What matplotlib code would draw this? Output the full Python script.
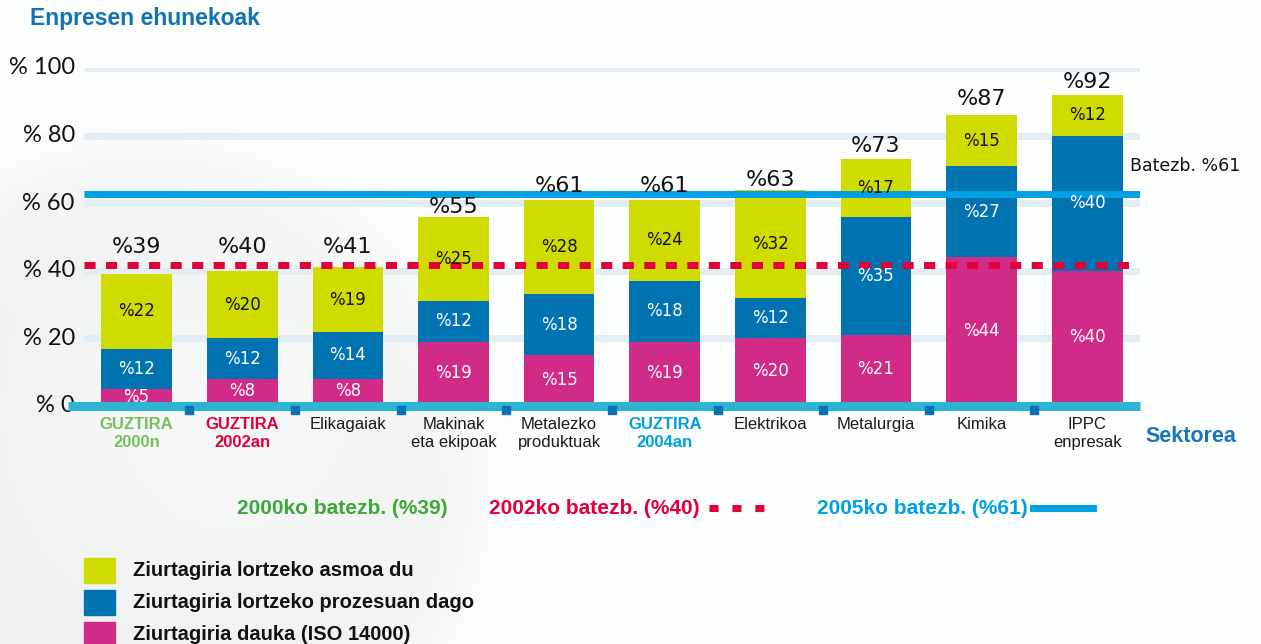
import numpy as np
import matplotlib.pyplot as plt
import matplotlib.transforms as mtransforms
from matplotlib.lines import Line2D
from matplotlib.patches import Rectangle

# --- data ---
categories = ["GUZTIRA\n2000n", "GUZTIRA\n2002an", "Elikagaiak", "Makinak\neta ekipoak",
              "Metalezko\nproduktuak", "GUZTIRA\n2004an", "Elektrikoa", "Metalurgia",
              "Kimika", "IPPC\nenpresak"]
cat_colors = ["#74c05a", "#e2003a", "#1a1a1a", "#1a1a1a", "#1a1a1a",
              "#009fe0", "#1a1a1a", "#1a1a1a", "#1a1a1a", "#1a1a1a"]
iso_has = [5, 8, 8, 19, 15, 19, 20, 21, 44, 40]
in_process = [12, 12, 14, 12, 18, 18, 12, 35, 27, 40]
intends = [22, 20, 19, 25, 28, 24, 32, 17, 15, 12]
totals = [39, 40, 41, 55, 61, 61, 63, 73, 87, 92]
mean_2000 = 39
mean_2002 = 40
mean_2005 = 61
yticks = [0, 20, 40, 60, 80, 100]
legend_labels = ["Ziurtagiria lortzeko asmoa du",
                 "Ziurtagiria lortzeko prozesuan dago",
                 "Ziurtagiria dauka (ISO 14000)"]

YELLOW = "#d0dc00"
BLUE = "#0073b0"
PINK = "#d02c87"
CYAN = "#00a0e3"
RED = "#e2003a"
GREEN = "#3aa935"

W, H = 1261, 644
fig = plt.figure(figsize=(W / 100, H / 100), dpi=100)


def px(x0, y0, x1, y1):
    return [x0 / W, 1 - y1 / H, (x1 - x0) / W, (y1 - y0) / H]


# faint grey sphere in the background
bg = fig.add_axes([0, 0, 1, 1], zorder=-1)
yy, xx = np.mgrid[0:H, 0:W]
d = np.hypot(xx - 150, (yy - 480)) / 330
hl = np.hypot(xx - 230, yy - 420) / 200
shade = 1 - 0.06 * np.exp(-d ** 8) + 0.035 * np.exp(-hl ** 2) * np.exp(-d ** 8)
shade = shade.clip(0, 1)
bg.imshow(np.dstack([shade * 0.995, shade, shade]), aspect="auto")
bg.axis("off")

ax = fig.add_axes(px(68, 68, 1140, 406), zorder=1)
ax.set_xlim(-0.65, 9.5)
ax.set_ylim(0, 100)
ax.axis("off")

x = np.arange(len(categories))

# grid bands
for v in yticks[1:]:
    ax.hlines(v, -0.5, 9.5, color="#e2eef3", lw=5, zorder=0)

# stacked bars
b1 = np.array(iso_has)
b2 = b1 + np.array(in_process)
ax.bar(x, iso_has, width=0.67, color=PINK, zorder=2)
ax.bar(x, in_process, width=0.67, bottom=b1, color=BLUE, zorder=2)
ax.bar(x, intends, width=0.67, bottom=b2, color=YELLOW, zorder=2)

seg_font = dict(ha="center", va="center", fontsize=12, family="DejaVu Sans")
for i in x:
    ax.text(i, iso_has[i] / 2 + 0.3, f"%{iso_has[i]}", color="white", zorder=6, **seg_font)
    ax.text(i, b1[i] + in_process[i] / 2, f"%{in_process[i]}", color="white", zorder=6, **seg_font)
    ax.text(i, b2[i] + intends[i] / 2, f"%{intends[i]}", color="#111111", zorder=6, **seg_font)
    ax.text(i, max(totals[i], 43) + 1, f"%{totals[i]}", ha="center", va="bottom",
            fontsize=16, color="#111111", zorder=6)

# average lines: drawn sitting just on top of their value
lifted = mtransforms.offset_copy(ax.transData, fig=fig, x=0, y=4, units="points")
ax.plot([-0.5, 9.5], [mean_2005, mean_2005], color=CYAN, lw=5, zorder=4,
        solid_capstyle="butt", transform=lifted)
ax.plot([-0.5, 9.45], [mean_2002, mean_2002], color=RED, lw=5, dashes=(1.6, 1.5), zorder=4,
        dash_capstyle="butt", transform=lifted)
ax.annotate(f"Batezb. %{mean_2005}", xy=(9.5, mean_2005), xytext=(-7, 24),
            textcoords="offset points", ha="left", va="center", fontsize=12.5, color="#111111")

# base axis line with separator marks
ax.hlines(0, -0.65, 9.5, color="#2cb4d2", lw=6.5, zorder=4, clip_on=False)
ax.plot(x[:-1] + 0.5, [-1.2] * (len(x) - 1), ls="none", marker="s", ms=5.5,
        color="#0a72b0", zorder=5, clip_on=False)

# y labels
for v in yticks:
    ax.text(-0.585, v, f"% {v}", ha="right", va="center", fontsize=17,
            family="Lato", color="#111111")

# category labels
for i, (lab, col) in enumerate(zip(categories, cat_colors)):
    bold = lab.startswith("GUZTIRA")
    ax.annotate(lab, xy=(i, 0), xytext=(0, -8), textcoords="offset points",
                ha="center", va="top", fontsize=12, color=col, linespacing=1.25,
                fontweight="bold" if bold else "normal", family="Liberation Sans")

fig.text(1145 / W, 1 - 436 / H, "Sektorea", ha="left", va="center", fontsize=15.5,
         fontweight="bold", color="#1a75b8", family="Liberation Sans")
fig.text(30 / W, 1 - 19 / H, "Enpresen ehunekoak", ha="left", va="center", fontsize=16.5,
         fontweight="bold", color="#1173b5", family="Liberation Sans")

# averages legend row
ly = 1 - 508 / H
narrow = dict(family="Liberation Sans", fontweight="bold", fontsize=15,
              ha="left", va="center")
fig.text(237 / W, ly, f"2000ko batezb. (%{mean_2000})", color=GREEN, **narrow)
fig.text(489 / W, ly, f"2002ko batezb. (%{mean_2002})", color=RED, **narrow)
fig.text(817 / W, ly, f"2005ko batezb. (%{mean_2005})", color=CYAN, **narrow)
fig.add_artist(Line2D([709 / W, 764 / W], [ly, ly], color=RED, lw=5, dashes=(1.3, 2.0)))
fig.add_artist(Line2D([1033 / W, 1093 / W], [ly, ly], color=CYAN, lw=5))

# category legend
legend_font = dict(narrow, fontsize=14.5)
for k, (lab, col) in enumerate(zip(legend_labels, [YELLOW, BLUE, PINK])):
    y0 = 558 + k * 32
    fig.add_artist(Rectangle((84 / W, 1 - (y0 + 25) / H), 31 / W, 25 / H,
                             color=col, transform=fig.transFigure))
    fig.text(133 / W, 1 - (y0 + 13) / H, lab, color="#111111", **legend_font)

fig.savefig("out.png", dpi=100)
